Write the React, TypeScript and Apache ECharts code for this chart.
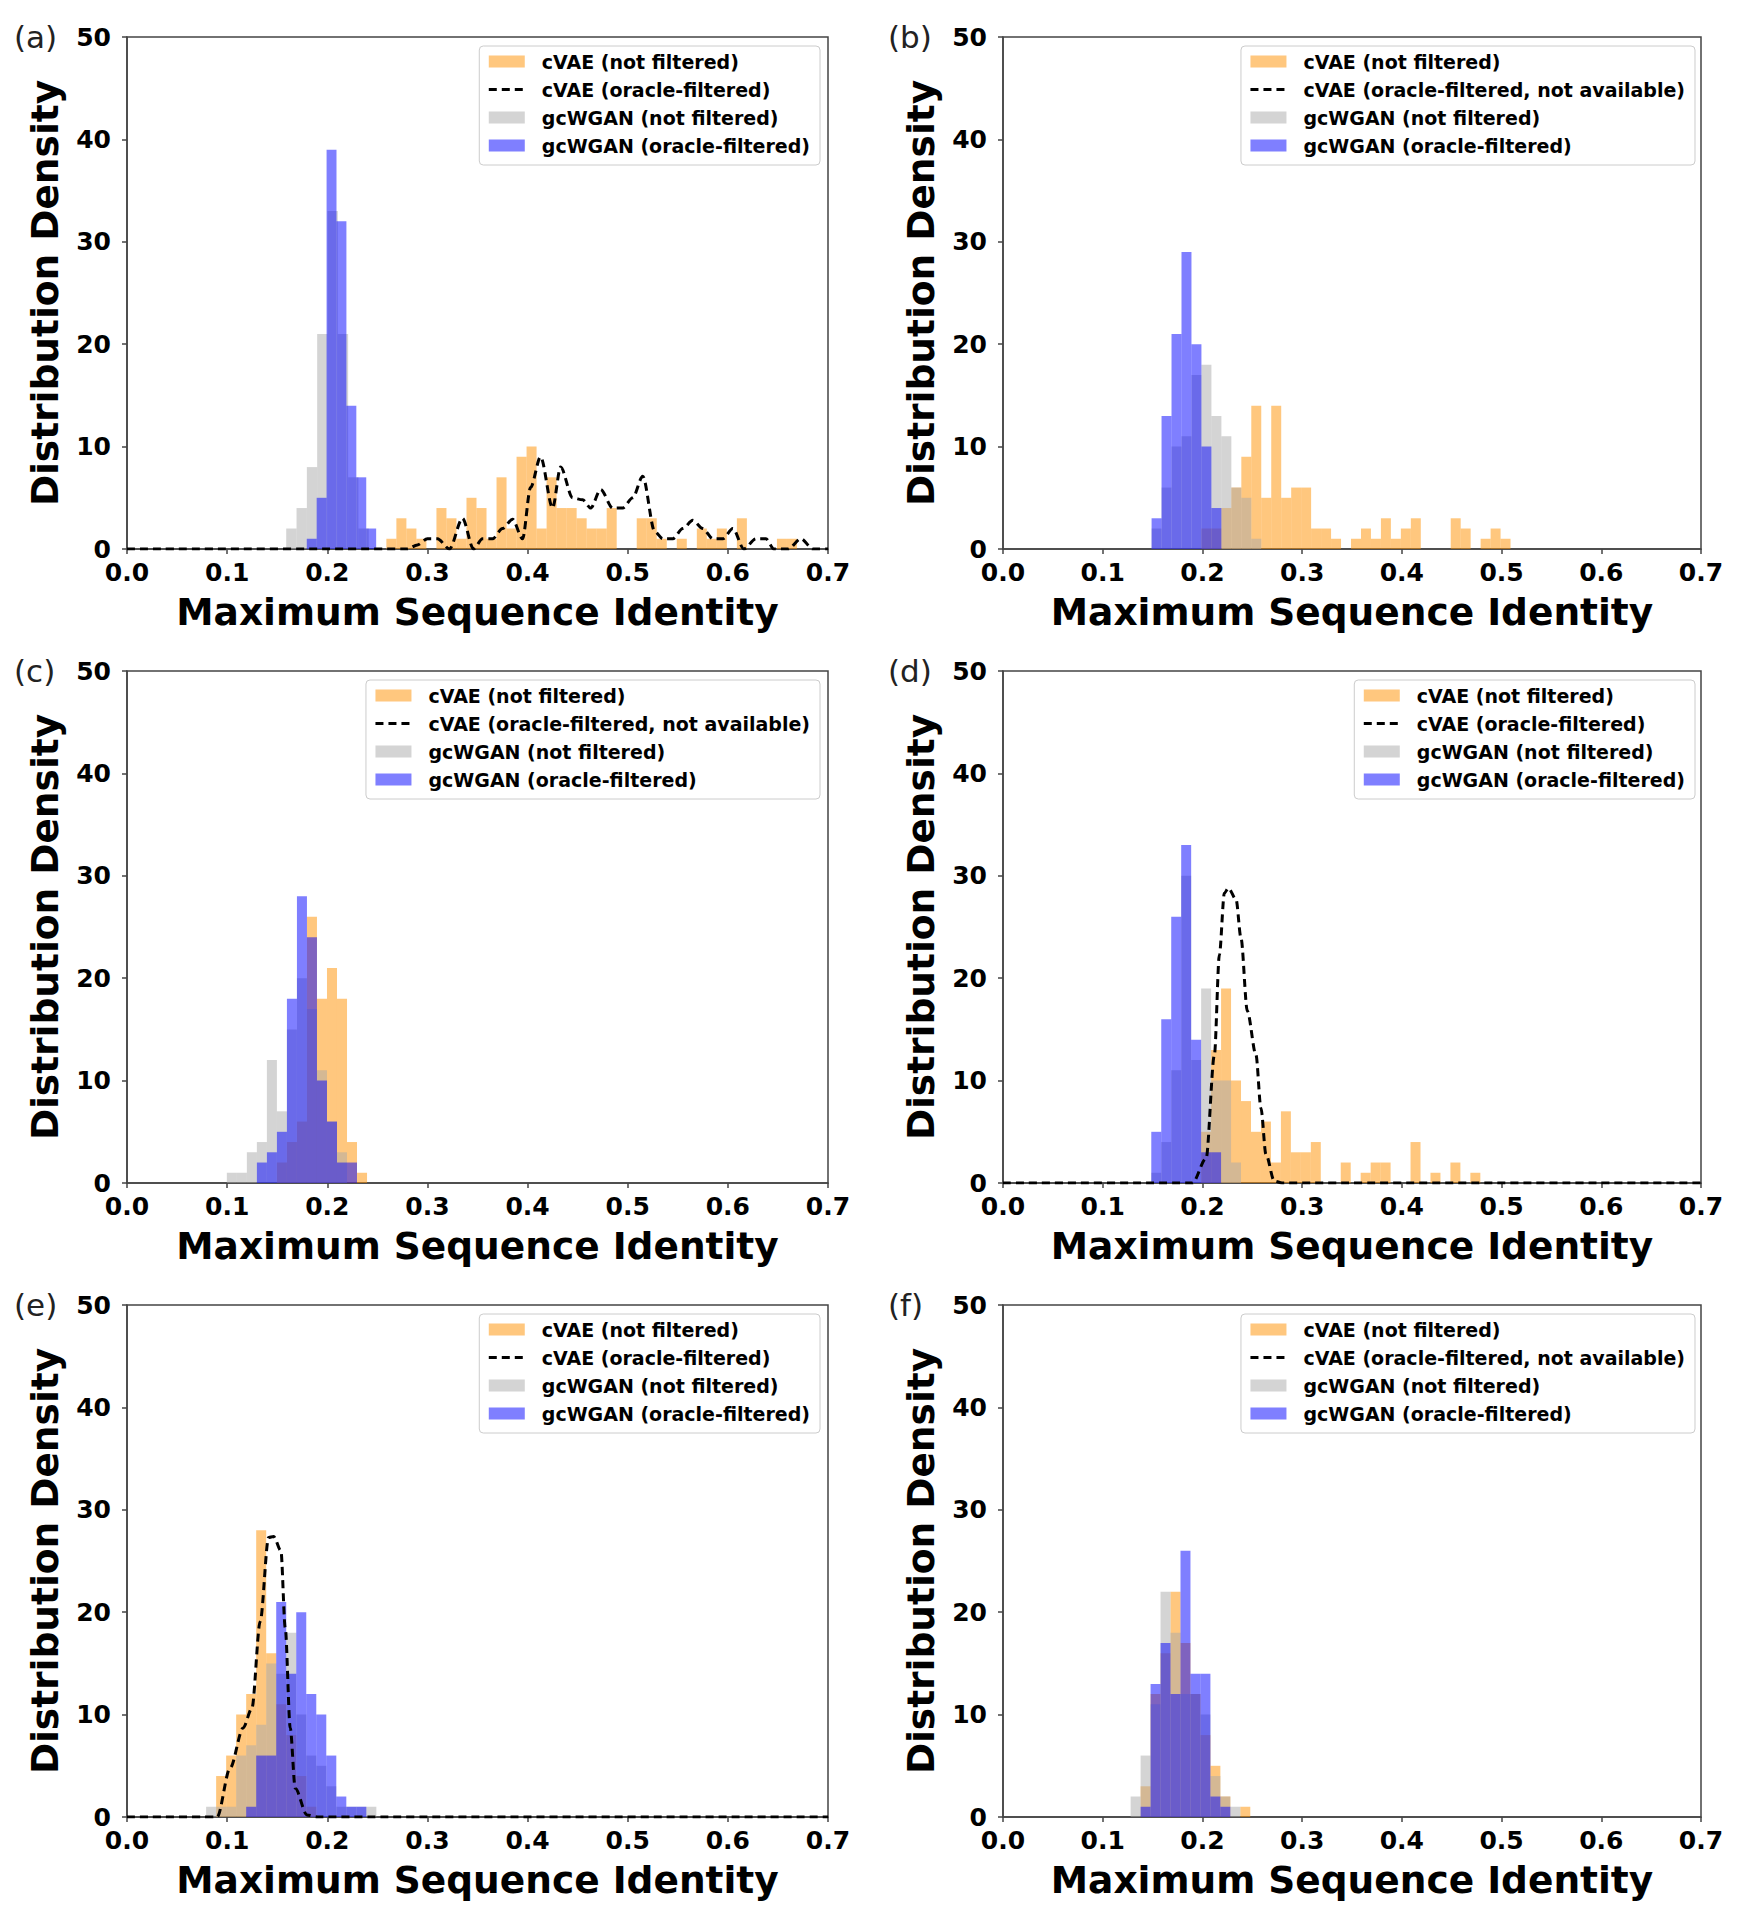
import React, { useEffect, useRef } from 'react';
import * as echarts from 'echarts';

// ---------- names ----------
const N_ORANGE = 'cVAE (not filtered)';
const N_DASH = 'cVAE (oracle-filtered)';
const N_DASH_NA = 'cVAE (oracle-filtered, not available)';
const N_GRAY = 'gcWGAN (not filtered)';
const N_BLUE = 'gcWGAN (oracle-filtered)';
const PANEL_LABELS = ['(a)', '(b)', '(c)', '(d)', '(e)', '(f)'];
const X_LABEL = 'Maximum Sequence Identity';
const Y_LABEL = 'Distribution Density';

// ---------- histogram data: [first bin edge, bin width], then densities ----------
// (a)
const aOrangeBins = [0.259, 0.01];
const aOrange = [1, 3, 2, 1, 0, 4, 3, 1, 5, 4, 1, 7, 2, 9, 10, 2, 7, 4, 4, 3, 2, 2, 4, 0, 0, 3, 3, 1, 0, 1, 0, 2, 1, 2, 0, 3, 0, 0, 0, 1, 1];
const aGrayBins = [0.159, 0.0103];
const aGray = [2, 4, 8, 21, 33, 21, 7, 2];
const aBlueBins = [0.1795, 0.0099];
const aBlue = [1, 5, 39, 32, 14, 7, 2];
const aLineX = [0, 0.28, 0.29, 0.3, 0.31, 0.322, 0.335, 0.346, 0.355, 0.365, 0.375, 0.385, 0.395, 0.403, 0.413, 0.425, 0.433, 0.445, 0.455, 0.463, 0.473, 0.485, 0.495, 0.505, 0.515, 0.527, 0.535, 0.545, 0.555, 0.565, 0.575, 0.585, 0.595, 0.605, 0.616, 0.628, 0.638, 0.646, 0.66, 0.673, 0.685, 0.7];
const aLineY = [0, 0, 0.4, 1, 1, 0, 3, 0, 1, 1, 2, 2.9, 1, 6, 9, 4, 8, 5, 4.8, 4, 5.8, 4, 4, 5, 7.1, 1.7, 1, 1, 2, 2.8, 2, 1, 1, 2, 0, 1, 1, 0, 0, 1, 0, 0];

// (b)
const bOrangeBins = [0.199, 0.01];
const bOrange = [2, 2, 4, 6, 9, 14, 5, 14, 5, 6, 6, 2, 2, 1, 0, 1, 2, 1, 3, 1, 2, 3, 0, 0, 0, 3, 2, 0, 1, 2, 1];
const bGrayBins = [0.149, 0.01];
const bGray = [2, 6, 10, 11, 17, 18, 13, 11, 6, 5, 1];
const bBlueBins = [0.149, 0.01];
const bBlue = [3, 13, 21, 29, 20, 10, 4];

// (c)
const cOrangeBins = [0.1497, 0.01];
const cOrange = [2, 4, 6, 26, 18, 21, 18, 4, 1];
const cGrayBins = [0.0997, 0.01];
const cGray = [1, 1, 3, 4, 12, 7, 15, 20, 17, 11, 6, 3];
const cBlueBins = [0.1297, 0.01];
const cBlue = [2, 3, 5, 18, 28, 24, 10, 6, 2, 2];

// (d)
const dOrangeBins = [0.1987, 0.01];
const dOrange = [5, 13, 19, 10, 8, 5, 6, 2, 7, 3, 3, 4, 0, 0, 2, 0, 1, 2, 2, 0, 0, 4, 0, 1, 0, 2, 0, 1];
const dGrayBins = [0.1487, 0.01];
const dGray = [1, 4, 11, 30, 12, 19, 10, 10, 2];
const dBlueBins = [0.1487, 0.01];
const dBlue = [5, 16, 26, 33, 14, 3, 3];
const dLineX = [0, 0.19, 0.2037, 0.212, 0.217, 0.222, 0.226, 0.2337, 0.2387, 0.245, 0.2537, 0.2587, 0.2637, 0.272, 0.28, 0.7];
const dLineY = [0, 0, 2.4, 12.5, 22.3, 28.3, 28.8, 27.7, 23.9, 16.8, 12.5, 7.3, 2.8, 0.2, 0, 0];

// (e)
const eOrangeBins = [0.089, 0.01];
const eOrange = [4, 6, 10, 12, 28, 16, 11, 8, 4, 1];
const eGrayBins = [0.079, 0.01];
const eGray = [1, 1, 1, 6, 7, 9, 15, 14, 18, 10, 6, 5, 3, 1, 1, 1, 1];
const eBlueBins = [0.119, 0.01];
const eBlue = [1, 6, 6, 21, 14, 20, 12, 10, 6, 2, 1, 1];
const eLineX = [0, 0.09, 0.103, 0.116, 0.1247, 0.133, 0.1414, 0.1464, 0.1537, 0.158, 0.163, 0.168, 0.1797, 0.19, 0.7];
const eLineY = [0, 0, 4.8, 8.7, 10.6, 19.1, 27.3, 27.4, 26, 18.5, 8.7, 2.8, 0.2, 0, 0];

// (f)
const fOrangeBins = [0.138, 0.01];
const fOrange = [3, 12, 16, 22, 17, 12, 8, 5, 2, 0, 1];
const fGrayBins = [0.128, 0.01];
const fGray = [2, 6, 11, 22, 18, 12, 12, 10, 4, 2, 1];
const fBlueBins = [0.138, 0.01];
const fBlue = [1, 13, 17, 12, 26, 14, 14, 2, 1];

// ---------- styles ----------
const C_ORANGE = 'rgba(255,148,8,0.52)';
const C_GRAY = 'rgba(169,169,169,0.5)';
const C_BLUE = 'rgba(0,0,255,0.5)';
const FONT = 'DejaVu Sans';

const panels = [
  { o: [aOrangeBins, aOrange], g: [aGrayBins, aGray], b: [aBlueBins, aBlue], lx: aLineX, ly: aLineY, dash: N_DASH },
  { o: [bOrangeBins, bOrange], g: [bGrayBins, bGray], b: [bBlueBins, bBlue], lx: null, ly: null, dash: N_DASH_NA },
  { o: [cOrangeBins, cOrange], g: [cGrayBins, cGray], b: [cBlueBins, cBlue], lx: null, ly: null, dash: N_DASH_NA },
  { o: [dOrangeBins, dOrange], g: [dGrayBins, dGray], b: [dBlueBins, dBlue], lx: dLineX, ly: dLineY, dash: N_DASH },
  { o: [eOrangeBins, eOrange], g: [eGrayBins, eGray], b: [eBlueBins, eBlue], lx: eLineX, ly: eLineY, dash: N_DASH },
  { o: [fOrangeBins, fOrange], g: [fGrayBins, fGray], b: [fBlueBins, fBlue], lx: null, ly: null, dash: N_DASH_NA },
];

const LEFTS = [127, 1003];
const TOPS = [37, 671, 1305];
const GW = [701, 698];
const GH = 512;

function histSeries(name: string, color: string, def: any, idx: number) {
  const [[start, w], counts] = def;
  return {
    type: 'custom',
    name,
    xAxisIndex: idx,
    yAxisIndex: idx,
    itemStyle: { color },
    encode: { x: [0, 1], y: 2 },
    data: counts.map((h: number, i: number) => [start + i * w, start + (i + 1) * w, h]),
    renderItem: (_p: any, api: any) => {
      const p0 = api.coord([api.value(0), api.value(2)]);
      const p1 = api.coord([api.value(1), 0]);
      return {
        type: 'rect',
        shape: { x: p0[0], y: p0[1], width: p1[0] - p0[0], height: p1[1] - p0[1] },
        style: { fill: color },
      };
    },
  };
}

function buildOption() {
  const grid: any[] = [];
  const xAxis: any[] = [];
  const yAxis: any[] = [];
  const series: any[] = [];
  const legend: any[] = [];
  const graphic: any[] = [];
  const axisColor = '#444';
  panels.forEach((p, i) => {
    const col = i % 2;
    const row = Math.floor(i / 2);
    const left = LEFTS[col];
    const top = TOPS[row];
    grid.push({ left, top, width: GW[col], height: GH, show: true, borderColor: axisColor, borderWidth: 1.5, backgroundColor: 'transparent' });
    xAxis.push({
      type: 'value', gridIndex: i, min: 0, max: 0.7, interval: 0.1,
      name: X_LABEL, nameLocation: 'middle', nameGap: 44,
      nameTextStyle: { fontFamily: FONT, fontWeight: 'bold', fontSize: 37.5, color: '#000' },
      axisLine: { show: true, lineStyle: { color: axisColor, width: 1.5 } },
      axisTick: { show: true, length: 5, lineStyle: { color: axisColor, width: 1.5 } },
      axisLabel: { formatter: (v: number) => v.toFixed(1), fontFamily: FONT, fontWeight: 'bold', fontSize: 25, color: '#000', margin: 11 },
      splitLine: { show: false },
    });
    yAxis.push({
      type: 'value', gridIndex: i, min: 0, max: 50, interval: 10,
      name: Y_LABEL, nameLocation: 'middle', nameGap: 63,
      nameTextStyle: { fontFamily: FONT, fontWeight: 'bold', fontSize: 37.5, color: '#000' },
      axisLine: { show: true, lineStyle: { color: axisColor, width: 1.5 } },
      axisTick: { show: true, length: 5, lineStyle: { color: axisColor, width: 1.5 } },
      axisLabel: { fontFamily: FONT, fontWeight: 'bold', fontSize: 25, color: '#000', margin: 16 },
      splitLine: { show: false },
    });
    series.push(histSeries(N_ORANGE, C_ORANGE, p.o, i));
    series.push(histSeries(N_GRAY, C_GRAY, p.g, i));
    series.push(histSeries(N_BLUE, C_BLUE, p.b, i));
    series.push({
      type: 'line', name: p.dash, xAxisIndex: i, yAxisIndex: i,
      data: p.lx ? p.lx.map((x: number, k: number) => [x, (p.ly as number[])[k]]) : [],
      symbol: 'none', smooth: 0.3, smoothMonotone: 'x',
      lineStyle: { color: '#000', width: 3, type: [8, 5] },
      itemStyle: { color: '#000' },
      z: 3,
    });
    legend.push({
      orient: 'vertical',
      right: col === 0 ? 1740 - 820 : 1740 - 1695,
      top: top + 9,
      selectedMode: false,
      itemWidth: 36, itemHeight: 12, itemGap: 9,
      padding: [6, 10, 10, 8],
      borderColor: '#ccc', borderWidth: 1, borderRadius: 4,
      backgroundColor: 'rgba(255,255,255,0.8)',
      lineStyle: { width: 3, type: [8, 5], color: '#000' },
      textStyle: { fontFamily: FONT, fontWeight: 'bold', fontSize: 19, color: '#000', lineHeight: 19, padding: [0, 0, 0, 12] },
      data: [
        { name: N_ORANGE, icon: 'rect' },
        { name: p.dash, itemStyle: { opacity: 0 } },
        { name: N_GRAY, icon: 'rect' },
        { name: N_BLUE, icon: 'rect' },
      ],
    });
    graphic.push({
      type: 'text',
      left: col === 0 ? 14 : 888,
      top: top - 16,
      style: { text: PANEL_LABELS[i], fontFamily: FONT, fontSize: 31, fill: '#222' },
    });
  });
  return { animation: false, backgroundColor: '#fff', grid, xAxis, yAxis, series, legend, graphic };
}

export default function App() {
  const ref = useRef<HTMLDivElement>(null);
  useEffect(() => {
    const chart = echarts.init(ref.current as HTMLDivElement, null, { renderer: 'svg' });
    chart.setOption(buildOption() as any);
    return () => chart.dispose();
  }, []);
  return <div ref={ref} style={{ position: 'absolute', left: 0, top: 0, width: 1740, height: 1920 }} />;
}
